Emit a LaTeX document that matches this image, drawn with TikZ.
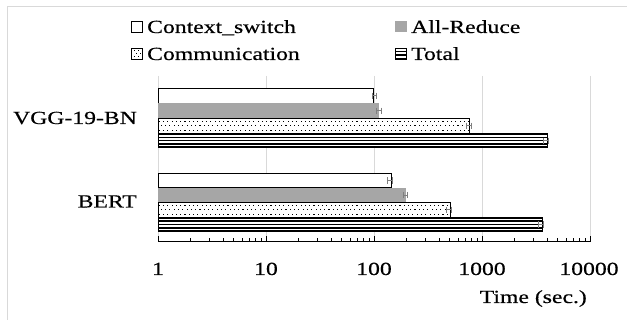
\documentclass[tikz,border=0pt]{standalone}
\usepackage{fontspec}
\setmainfont{Liberation Serif}[UprightFeatures={FakeBold=0.35}]
\definecolor{gridc}{HTML}{D9D9D9}
\definecolor{argray}{HTML}{A6A6A6}
\definecolor{errc}{HTML}{7F7F7F}
\newcommand\wide[1]{\scalebox{1.28}[1]{#1}}
\begin{document}
\begin{tikzpicture}[x=1pt,y=-1pt,
  every node/.style={font=\fontsize{18.5}{22}\selectfont, inner sep=0pt},
  grid/.style={draw=gridc, line width=1},
  ctxbar/.style={fill=white, draw=black, line width=1},
  outl/.style={draw=black, line width=0.8},
  errbar/.style={draw=errc, line width=0.8}]
\useasboundingbox (0,0) rectangle (627,320);
\fill[white] (0,0) rectangle (627,320);
% frame
\draw[draw=gridc, line width=1] (7,321) -- (7,7) -- (628,7);

% gridlines
\foreach \g in {158,266,374,482,590} \draw[grid] (\g,76) -- (\g,242);

% ---------- bars ----------
\newcommand\ctxbar[3]{\draw[ctxbar] (158,#1) rectangle (#3,#1+#2);}
\newcommand\arbar[3]{\fill[argray] (158,#1) rectangle (#3,#1+#2);}
\newcommand\combar[3]{%
  \fill[white] (158,#1) rectangle (#3,#1+#2);
  \begin{scope}
  \clip (158,#1) rectangle (#3,#1+#2);
  \foreach \i in {0,...,80} {
    \fill (158.6+\i*4.3,#1+2.3) rectangle ++(1.1,1.1);
    \fill (160.75+\i*4.3,#1+6.9) rectangle ++(1.1,1.1);
    \fill (158.6+\i*4.3,#1+11.5) rectangle ++(1.1,1.1);
  }
  \end{scope}
  \draw[outl] (158,#1) rectangle (#3,#1+#2);}
\newcommand\totbar[3]{%
  \fill[white] (158,#1) rectangle (#3,#1+#2);
  \foreach \k in {0,...,4} \draw[line width=1.6] (158,#1+0.8+\k*3.3) -- (#3,#1+0.8+\k*3.3);
  \draw[line width=1] (158,#1) -- (158,#1+#2) (#3,#1) -- (#3,#1+#2);}
\newcommand\err[2]{\draw[errbar] (#1-2.2,#2) -- (#1+2.2,#2) (#1-2.2,#2-3.2) -- (#1-2.2,#2+3.2) (#1+2.2,#2-3.2) -- (#1+2.2,#2+3.2);}

% VGG-19-BN
\ctxbar{88.3}{15}{373.5}
\arbar{103.3}{15}{378.5}
\combar{118.3}{15}{469}
\totbar{133.3}{15}{547}
\err{374.5}{95.8}
\err{379}{110.8}
\err{469}{125.8}
\err{546}{140.8}

% BERT
\ctxbar{173.3}{14.6}{391.5}
\arbar{187.9}{14.6}{405.5}
\combar{202.5}{14.6}{450}
\totbar{217.1}{14.6}{542}
\err{390}{180.6}
\err{405.5}{195.2}
\err{449}{209.8}
\err{541}{224.4}

% ---------- axis ----------
\draw[line width=1] (158,242) -- (590,242);
\foreach \d in {0,1,2,3} {
  \draw[line width=1] (158+\d*108,242) -- ++(0,-6);
  \foreach \m in {2,...,9} \draw[line width=0.9] ({158+\d*108+108*log10(\m)},242) -- ++(0,-4);
}
\draw[line width=1] (590,242) -- ++(0,-6);

\node[anchor=base] (t1) at (158,275) {\wide{1}};
\node[anchor=base] (t10) at (266,275) {\wide{10}};
\node[anchor=base] (t100) at (374,275) {\wide{100}};
\node[anchor=base] (t1000) at (482,275) {\wide{1000}};
\node[anchor=base] (t10000) at (589,275) {\wide{10000}};
\node[anchor=base east] (xlab) at (587,303) {\wide{Time (sec.)}};

\node[anchor=base east] (vgg) at (137,124) {\wide{VGG-19-BN}};
\node[anchor=base east] (bert) at (137,207.5) {\wide{BERT}};

% ---------- legend ----------
\draw[line width=0.8, fill=white] (131,21) rectangle (142,32);
\node[anchor=base west] (lctx) at (147,33) {\wide{Context\_switch}};
\fill[argray] (395,21) rectangle (407,32);
\node[anchor=base west] (lar) at (411,33) {\wide{All-Reduce}};
\draw[line width=0.8, fill=white] (131,48) rectangle (142,59);
\foreach \p in {(133.5,50.5),(137.5,50.5),(135.5,53.5),(139.5,53.5),(133.5,56.5),(137.5,56.5)} \fill \p rectangle ++(1,1);
\node[anchor=base west] (lcom) at (147,60) {\wide{Communication}};
\draw[line width=0.8, fill=white] (395,48) rectangle (406,59);
\foreach \k in {0,...,3} \draw[line width=1.2] (395,48.5+\k*3.3) -- (406,48.5+\k*3.3);
\node[anchor=base west] (ltot) at (411,60) {\wide{Total}};
\end{tikzpicture}
\end{document}
